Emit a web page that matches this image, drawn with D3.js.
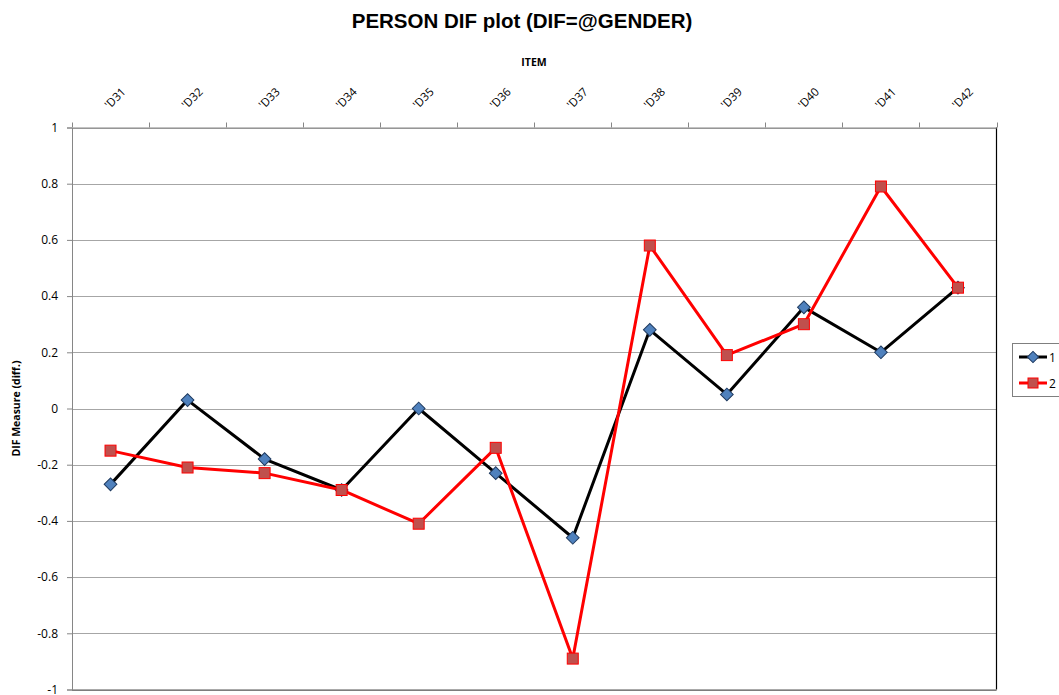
<!DOCTYPE html>
<html><head><meta charset="utf-8">
<script src="https://cdn.jsdelivr.net/npm/d3@7"></script>
<style>body{margin:0;background:#fff;} svg{display:block;}</style>
</head><body>
<script>
const categories = ["'D31","'D32","'D33","'D34","'D35","'D36","'D37","'D38","'D39","'D40","'D41","'D42"];
const series1 = [-0.27, 0.03, -0.18, -0.29, 0.00, -0.23, -0.46, 0.28, 0.05, 0.36, 0.20, 0.43];
const series2 = [-0.15, -0.21, -0.23, -0.29, -0.41, -0.14, -0.89, 0.58, 0.19, 0.30, 0.79, 0.43];
const seriesNames = ["1", "2"];
const yTicks = [1, 0.8, 0.6, 0.4, 0.2, 0, -0.2, -0.4, -0.6, -0.8, -1];

const W = 1059, H = 695;
const m = {left: 72, right: 1059 - 996.5, top: 127.5, bottom: 695 - 689.5};
const svg = d3.select("body").append("svg").attr("width", W).attr("height", H);

const x = d3.scaleBand().domain(categories).range([m.left, W - m.right]);
const y = d3.scaleLinear().domain([-1, 1]).range([H - m.bottom, m.top]);
const cx = d => x(d) + x.bandwidth() / 2;
const FONT = "'Open Sans', 'Liberation Sans', sans-serif";

// gridlines
svg.append("g").selectAll("line").data(yTicks).join("line")
  .attr("x1", m.left).attr("x2", W - m.right)
  .attr("y1", d => Math.round(y(d)) + 0.5).attr("y2", d => Math.round(y(d)) + 0.5)
  .attr("stroke", "#a6a6a6").attr("stroke-width", 1);

// right border
svg.append("line").attr("x1", W - m.right).attr("x2", W - m.right)
  .attr("y1", m.top).attr("y2", H - m.bottom).attr("stroke", "#000").attr("stroke-width", 1.2);
// bottom border
svg.append("line").attr("x1", m.left).attr("x2", W - m.right)
  .attr("y1", H - m.bottom + 0.5).attr("y2", H - m.bottom + 0.5).attr("stroke", "#555").attr("stroke-width", 1);

// left axis
const yAxis = d3.axisLeft(y).tickValues(yTicks).tickSize(5).tickPadding(9)
  .tickFormat(d => String(d));
const gy = svg.append("g").attr("transform", `translate(${m.left},0)`).call(yAxis);
gy.select(".domain").attr("stroke", "#868686");
gy.selectAll(".tick line").attr("stroke", "#868686");
gy.selectAll(".tick text").attr("font-family", FONT)
  .attr("font-size", 12).attr("fill", "#000");

// top axis
const xAxis = d3.axisTop(x).tickSize(0).tickFormat("");
const gx = svg.append("g").attr("transform", `translate(0,${m.top})`).call(xAxis);
gx.select(".domain").attr("stroke", "#868686");
// boundary ticks
const bounds = categories.map(c => x(c)).concat([W - m.right]);
svg.append("g").selectAll("line").data(bounds).join("line")
  .attr("x1", d => Math.round(d) + 0.5).attr("x2", d => Math.round(d) + 0.5)
  .attr("y1", m.top - 5).attr("y2", m.top).attr("stroke", "#868686");
// rotated labels
svg.append("g").selectAll("text").data(categories).join("text")
  .attr("x", 0).attr("y", 0)
  .attr("transform", d => `translate(${cx(d) - 1},${m.top - 18}) rotate(-45)`)
  .attr("text-anchor", "start")
  .attr("font-family", FONT)
  .attr("font-size", 11.5).attr("fill", "#000")
  .text(d => d);

// titles
svg.append("text").attr("x", 522).attr("y", 28).attr("text-anchor", "middle")
  .attr("font-family", "'Liberation Sans', Arial, sans-serif").attr("font-weight", "bold")
  .attr("font-size", 20.5).text("PERSON DIF plot (DIF=@GENDER)");
svg.append("text").attr("x", 534).attr("y", 66).attr("text-anchor", "middle")
  .attr("font-family", FONT).attr("font-weight", "bold")
  .attr("font-size", 10.5).text("ITEM");
svg.append("text").attr("transform", `translate(20,${y(0)}) rotate(-90)`).attr("text-anchor", "middle")
  .attr("font-family", FONT).attr("font-weight", "bold")
  .attr("font-size", 10.5).text("DIF Measure  (diff.)");

// lines
const line = d3.line().x((d, i) => cx(categories[i])).y(d => y(d));
svg.append("path").datum(series1).attr("d", line).attr("fill", "none")
  .attr("stroke", "#000").attr("stroke-width", 3).attr("stroke-linejoin", "round");
svg.append("path").datum(series2).attr("d", line).attr("fill", "none")
  .attr("stroke", "#ff0000").attr("stroke-width", 3).attr("stroke-linejoin", "round");

// markers
svg.append("g").selectAll("rect").data(series1).join("rect")
  .attr("x", -4.5).attr("y", -4.5).attr("width", 9).attr("height", 9)
  .attr("transform", (d, i) => `translate(${cx(categories[i])},${y(d)}) rotate(45)`)
  .attr("fill", "#4f81bd").attr("stroke", "#1f3a5f").attr("stroke-width", 1);
svg.append("g").selectAll("rect").data(series2).join("rect")
  .attr("x", (d, i) => cx(categories[i]) - 5.5).attr("y", d => y(d) - 5.5)
  .attr("width", 11).attr("height", 11)
  .attr("fill", "#c0504d").attr("stroke", "#ff0000").attr("stroke-width", 1);

// legend
const lg = svg.append("g");
lg.append("rect").attr("x", 1012.5).attr("y", 343.5).attr("width", 60).attr("height", 53)
  .attr("fill", "#fff").attr("stroke", "#7f7f7f").attr("stroke-width", 1);
const ly = [357, 383];
lg.append("line").attr("x1", 1019).attr("x2", 1047).attr("y1", ly[0]).attr("y2", ly[0])
  .attr("stroke", "#000").attr("stroke-width", 3);
lg.append("rect").attr("x", -4).attr("y", -4).attr("width", 8).attr("height", 8)
  .attr("transform", `translate(1033,${ly[0]}) rotate(45)`)
  .attr("fill", "#4f81bd").attr("stroke", "#1f3a5f");
lg.append("line").attr("x1", 1019).attr("x2", 1047).attr("y1", ly[1]).attr("y2", ly[1])
  .attr("stroke", "#ff0000").attr("stroke-width", 3);
lg.append("rect").attr("x", 1028).attr("y", ly[1] - 5).attr("width", 10).attr("height", 10)
  .attr("fill", "#c0504d").attr("stroke", "#ff0000");
lg.selectAll("text.lt").data(seriesNames).join("text").attr("class", "lt")
  .attr("x", 1049).attr("y", (d, i) => ly[i] + 4.5)
  .attr("font-family", FONT).attr("font-size", 12)
  .text(d => d);
</script>
</body></html>
